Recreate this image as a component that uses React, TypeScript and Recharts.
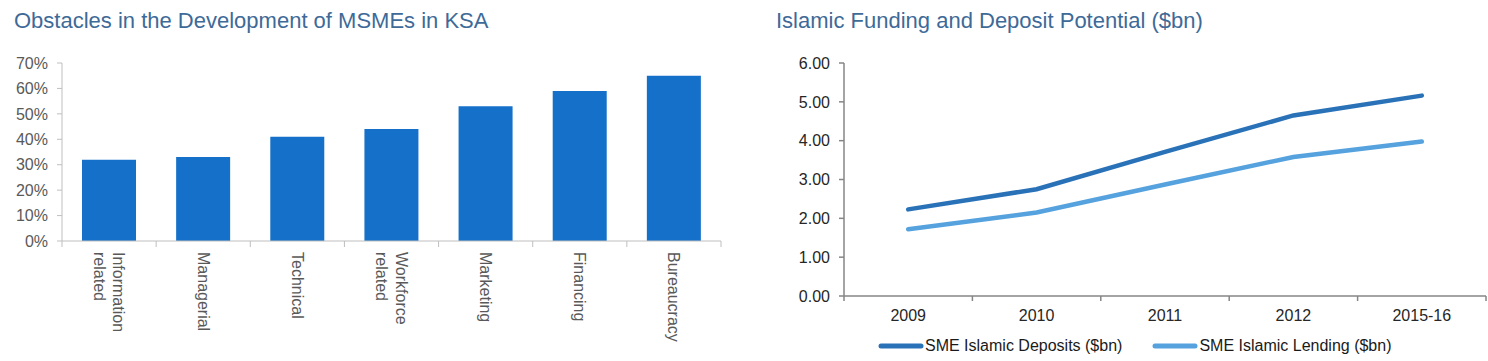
import React from "react";
import {
  BarChart,
  Bar,
  LineChart,
  Line,
  XAxis,
  YAxis,
  Legend,
} from "recharts";

const OBSTACLES = [
  "Information related",
  "Managerial",
  "Technical",
  "Workforce related",
  "Marketing",
  "Financing",
  "Bureaucracy",
];
const OBSTACLE_SHARE = [0.32, 0.33, 0.41, 0.44, 0.53, 0.59, 0.65];
const PCT_TICKS = [0, 0.1, 0.2, 0.3, 0.4, 0.5, 0.6, 0.7];

const YEARS = ["2009", "2010", "2011", "2012", "2015-16"];
const DEPOSITS = [2.23, 2.75, 3.71, 4.65, 5.16];
const LENDING = [1.72, 2.15, 2.87, 3.58, 3.98];
const BN_TICKS = [0, 1, 2, 3, 4, 5, 6];

const FONT = "'Liberation Sans', Arial, sans-serif";
const TITLE_COLOR = "#3e6a98";
const BAR_COLOR = "#1570c9";
const DEP_COLOR = "#2a72b8";
const LEND_COLOR = "#55a2de";

const obstacleData = OBSTACLES.map((name, i) => ({ name, share: OBSTACLE_SHARE[i] }));
const fundingData = YEARS.map((year, i) => ({
  year,
  deposits: DEPOSITS[i],
  lending: LENDING[i],
}));

// left chart geometry
const L_W = 740;
const L_H = 361;
const L_MARGIN = { top: 63, right: 19, left: 0, bottom: 0 };
const L_YW = 62;
const L_XH = 120;
const L_BAND = (L_W - L_MARGIN.right - L_YW) / OBSTACLES.length;

// right chart geometry
const R_W = 748;
const R_H = 361;
const R_MARGIN = { top: 63, right: 2, left: 0, bottom: 0 };
const R_YW = 104;
const R_XH = 30;
const R_BAND = (R_W - R_MARGIN.right - R_YW) / YEARS.length;

function ObstacleTick(props: any) {
  const { x, y, payload, index } = props;
  const words: string[] = payload.value.split(" ");
  const lh = 19.5;
  const first = -((words.length - 1) * lh) / 2 + 5.6;
  const half = L_BAND / 2;
  return (
    <g>
      <line x1={x - half} y1={y - 8} x2={x - half} y2={y - 2} stroke="#bfbfbf" />
      {index === OBSTACLES.length - 1 && (
        <line x1={x + half} y1={y - 8} x2={x + half} y2={y - 2} stroke="#bfbfbf" />
      )}
      <text
        transform={`translate(${x},${y + 3}) rotate(90)`}
        fontSize={16}
        fontFamily={FONT}
        fill="#595959"
      >
        {words.map((w, i) => (
          <tspan key={w} x={0} y={first + i * lh}>
            {w}
          </tspan>
        ))}
      </text>
    </g>
  );
}

function YearTick(props: any) {
  const { x, y, payload, index } = props;
  const half = R_BAND / 2;
  return (
    <g>
      <line x1={x - half} y1={y - 8} x2={x - half} y2={y - 3} stroke="#868686" strokeWidth={1.5} />
      {index === YEARS.length - 1 && (
        <line x1={x + half} y1={y - 8} x2={x + half} y2={y - 3} stroke="#868686" strokeWidth={1.5} />
      )}
      <text x={x} y={y + 17} textAnchor="middle" fontSize={16} fontFamily={FONT} fill="#262626">
        {payload.value}
      </text>
    </g>
  );
}

function FundingLegend() {
  const items = [
    { label: "SME Islamic Deposits ($bn)", color: DEP_COLOR },
    { label: "SME Islamic Lending ($bn)", color: LEND_COLOR },
  ];
  return (
    <div
      style={{
        display: "flex",
        alignItems: "center",
        height: 35,
        paddingLeft: 138,
        paddingTop: 4,
        boxSizing: "border-box",
        fontFamily: FONT,
        fontSize: 16,
        color: "#1a1a1a",
        gap: 30,
      }}
    >
      {items.map((it) => (
        <div key={it.label} style={{ display: "flex", alignItems: "center" }}>
          <svg width={46} height={8}>
            <line x1={3} y1={4} x2={43} y2={4} stroke={it.color} strokeWidth={5} strokeLinecap="round" />
          </svg>
          <span style={{ marginLeft: 1 }}>{it.label}</span>
        </div>
      ))}
    </div>
  );
}

const titleStyle: React.CSSProperties = {
  position: "absolute",
  top: 8,
  fontFamily: FONT,
  fontSize: 22,
  color: TITLE_COLOR,
  whiteSpace: "nowrap",
  lineHeight: "26px",
};

export default function App() {
  return (
    <div
      style={{
        position: "absolute",
        left: 0,
        top: 0,
        width: 1488,
        height: 361,
        background: "#fff",
        overflow: "hidden",
      }}
    >
      <div style={{ ...titleStyle, left: 14 }}>Obstacles in the Development of MSMEs in KSA</div>
      <div style={{ ...titleStyle, left: 776 }}>Islamic Funding and Deposit Potential ($bn)</div>

      <div style={{ position: "absolute", left: 0, top: 0 }}>
        <BarChart width={L_W} height={L_H} data={obstacleData} margin={L_MARGIN} barCategoryGap={20}>
          <XAxis
            dataKey="name"
            height={L_XH}
            interval={0}
            tickLine={false}
            stroke="#bfbfbf"
            tick={<ObstacleTick />}
          />
          <YAxis
            width={L_YW}
            domain={[0, 0.7]}
            ticks={PCT_TICKS}
            tickFormatter={(v: number) => `${Math.round(v * 100)}%`}
            stroke="#bfbfbf"
            tickSize={5}
            tickMargin={9}
            tick={{ fill: "#595959", fontSize: 16, fontFamily: FONT }}
          />
          <Bar dataKey="share" fill={BAR_COLOR} isAnimationActive={false} />
        </BarChart>
      </div>

      <div style={{ position: "absolute", left: 740, top: 0 }}>
        <LineChart width={R_W} height={R_H} data={fundingData} margin={R_MARGIN}>
          <XAxis
            dataKey="year"
            height={R_XH}
            interval={0}
            padding={{ left: R_BAND / 2, right: R_BAND / 2 }}
            tickLine={false}
            stroke="#868686"
            strokeWidth={1.5}
            tick={<YearTick />}
          />
          <YAxis
            width={R_YW}
            domain={[0, 6]}
            ticks={BN_TICKS}
            tickFormatter={(v: number) => v.toFixed(2)}
            stroke="#868686"
            strokeWidth={1.5}
            tickSize={5}
            tickMargin={9}
            tick={{ fill: "#262626", fontSize: 16, fontFamily: FONT }}
          />
          <Legend verticalAlign="bottom" align="left" content={<FundingLegend />} />
          <Line
            type="linear"
            dataKey="deposits"
            stroke={DEP_COLOR}
            strokeWidth={4.5}
            strokeLinecap="round"
            dot={false}
            isAnimationActive={false}
          />
          <Line
            type="linear"
            dataKey="lending"
            stroke={LEND_COLOR}
            strokeWidth={4.5}
            strokeLinecap="round"
            dot={false}
            isAnimationActive={false}
          />
        </LineChart>
      </div>
    </div>
  );
}
